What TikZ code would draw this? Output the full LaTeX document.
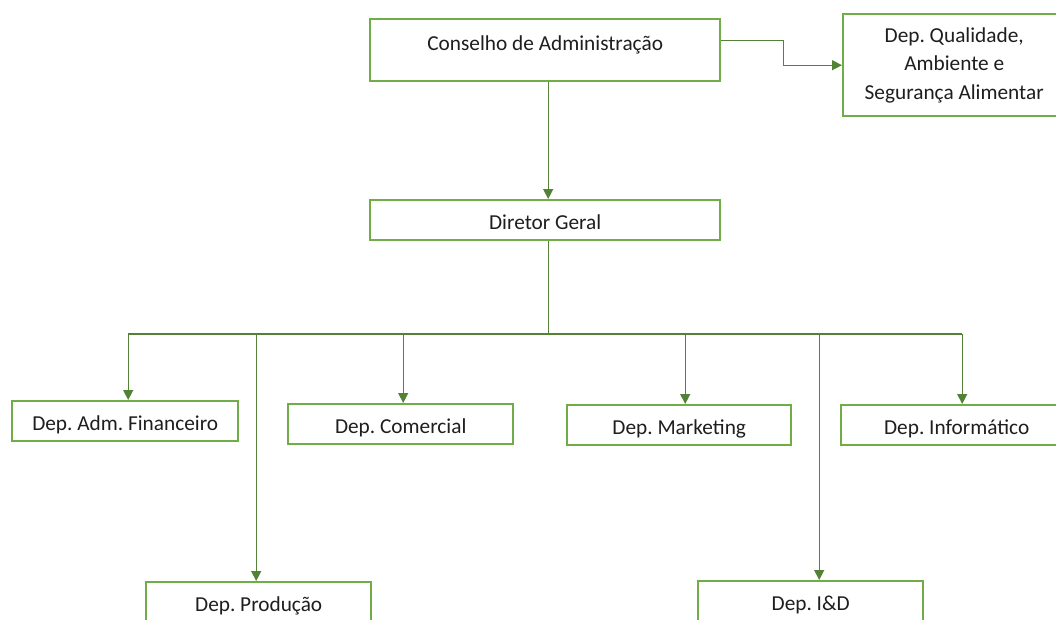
\documentclass[tikz,border=0pt]{standalone}
\usepackage{fontspec}
\setmainfont{Carlito}
\frenchspacing
\usetikzlibrary{arrows.meta,calc}
\definecolor{boxgreen}{HTML}{70AD47}
\definecolor{linegreen}{HTML}{538135}
\definecolor{ink}{HTML}{1E1E1E}
\tikzset{
  unit/.style={draw=boxgreen, line width=2.4pt, fill=white, anchor=north west,
    inner sep=0pt, text=ink, font=\fontsize{21.3}{28.5}\selectfont, align=center},
  single/.style={unit, minimum height=40pt, text height=18pt, text depth=0pt},
  link/.style={draw=linegreen, line width=1.3pt},
  arrowlink/.style={link, -{Triangle[length=10pt,width=10pt]}}
}
\begin{document}
\begin{tikzpicture}[x=1pt,y=-1pt]
\useasboundingbox (0,0) rectangle (1056,619);
\clip (0,0) rectangle (1056,619);
\fill[white] (0,0) rectangle (1056,619);

% boxes
\node[unit, minimum width=350pt, minimum height=62pt, text height=10pt, text depth=10pt]
  (cons) at (369,18) {Conselho de Administração};
\node[unit, minimum width=222pt, minimum height=102pt]
  (qual) at (842,13) {Dep. Qualidade,\\Ambiente e\\Segurança Alimentar};
\node[single, minimum width=350pt] (dir) at (369,199) {Diretor Geral};
\node[single, minimum width=226pt] (fin) at (11,400) {Dep. Adm. Financeiro};
\node[single, minimum width=225pt] (com) at (287,403) {Dep. Comercial};
\node[single, minimum width=224pt] (mkt) at (566,404) {Dep. Marketing};
\node[single, minimum width=231pt] (info) at (840,404) {Dep. Informático};
\node[single, minimum width=225pt] (prod) at (145,581) {Dep. Produção};
\node[single, minimum width=225pt] (id) at (697,580) {Dep. I\&D};

% attachment points
\coordinate (bus) at (547,334);
\coordinate (ccons) at ([xshift=3pt]cons.south);
\coordinate (cdir) at ([xshift=3pt]dir.north);
\coordinate (cdirs) at ([xshift=3pt]dir.south);
\coordinate (dfin) at ([xshift=3pt]fin.north);
\coordinate (dprod) at ([xshift=-2.5pt]prod.north);
\coordinate (dcom) at ([xshift=2.5pt]com.north);
\coordinate (dmkt) at ([xshift=6pt]mkt.north);
\coordinate (did) at ([xshift=8.5pt]id.north);
\coordinate (dinfo) at ([xshift=5.5pt]info.north);

% connectors
\draw[arrowlink] (ccons) -- (cdir);
\draw[arrowlink] ([yshift=10pt]cons.east) -- ++(62,0) |- (qual.west);
\draw[link] (cdirs) -- (cdirs |- bus);
\draw[link] (dfin |- bus) -- (dinfo |- bus);
\foreach \d in {dfin,dprod,dcom,dmkt,did,dinfo}
  \draw[arrowlink] (\d |- bus) -- (\d);
\end{tikzpicture}
\end{document}
